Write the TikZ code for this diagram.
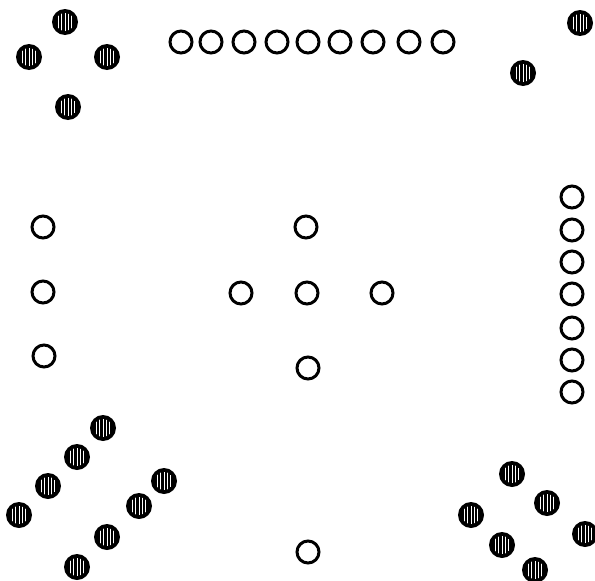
\documentclass[tikz,border=0pt]{standalone}
\begin{document}
\begin{tikzpicture}[x=1pt,y=-1pt,
  opencirc/.style={circle,draw=black,line width=3pt,minimum size=22pt,inner sep=0pt},
  hatchcirc/.style={circle,fill=black,minimum size=26pt,inner sep=0pt,
    path picture={
      \clip (path picture bounding box.center) circle (9pt);
      \foreach \dx in {-6.4,-3.2,0,3.2,6.4}
        \draw[white,line width=0.8pt] ([xshift=\dx pt,yshift=-10pt]path picture bounding box.center) -- ([xshift=\dx pt,yshift=10pt]path picture bounding box.center);
    }}]
\useasboundingbox[fill=white] (0,0) rectangle (595,581);
% top-left cluster
\node[hatchcirc] (tl1) at (65,22) {};
\node[hatchcirc] (tl2) at (29,57) {};
\node[hatchcirc] (tl3) at (107,57) {};
\node[hatchcirc] (tl4) at (68,107) {};
% top-right
\node[hatchcirc] (tr1) at (580,23) {};
\node[hatchcirc] (tr2) at (523,73) {};
% top row
\foreach \x [count=\i] in {181,211,244,277,308,340,373,409,443}
  \node[opencirc] (row\i) at (\x,42) {};
% right column
\foreach \y [count=\i] in {197,230,262,294,328,360,392}
  \node[opencirc] (col\i) at (572,\y) {};
% left column
\node[opencirc] (l1) at (43,227) {};
\node[opencirc] (l2) at (43,292) {};
\node[opencirc] (l3) at (44,356) {};
% cross
\node[opencirc] (ct) at (306,227) {};
\node[opencirc] (cl) at (241,293) {};
\node[opencirc] (cc) at (307,293) {};
\node[opencirc] (cr) at (382,293) {};
\node[opencirc] (cb) at (308,368) {};
% bottom middle
\node[opencirc] (bm) at (308,552) {};
% bottom-left cluster
\node[hatchcirc] (bl1) at (103,428) {};
\node[hatchcirc] (bl2) at (77,457) {};
\node[hatchcirc] (bl3) at (48,486) {};
\node[hatchcirc] (bl4) at (19,515) {};
\node[hatchcirc] (bl5) at (164,481) {};
\node[hatchcirc] (bl6) at (139,506) {};
\node[hatchcirc] (bl7) at (107,537) {};
\node[hatchcirc] (bl8) at (77,567) {};
% bottom-right cluster
\node[hatchcirc] (br1) at (512,474) {};
\node[hatchcirc] (br2) at (547,503) {};
\node[hatchcirc] (br3) at (471,515) {};
\node[hatchcirc] (br4) at (585,534) {};
\node[hatchcirc] (br5) at (502,545) {};
\node[hatchcirc] (br6) at (535,570) {};
\end{tikzpicture}
\end{document}
